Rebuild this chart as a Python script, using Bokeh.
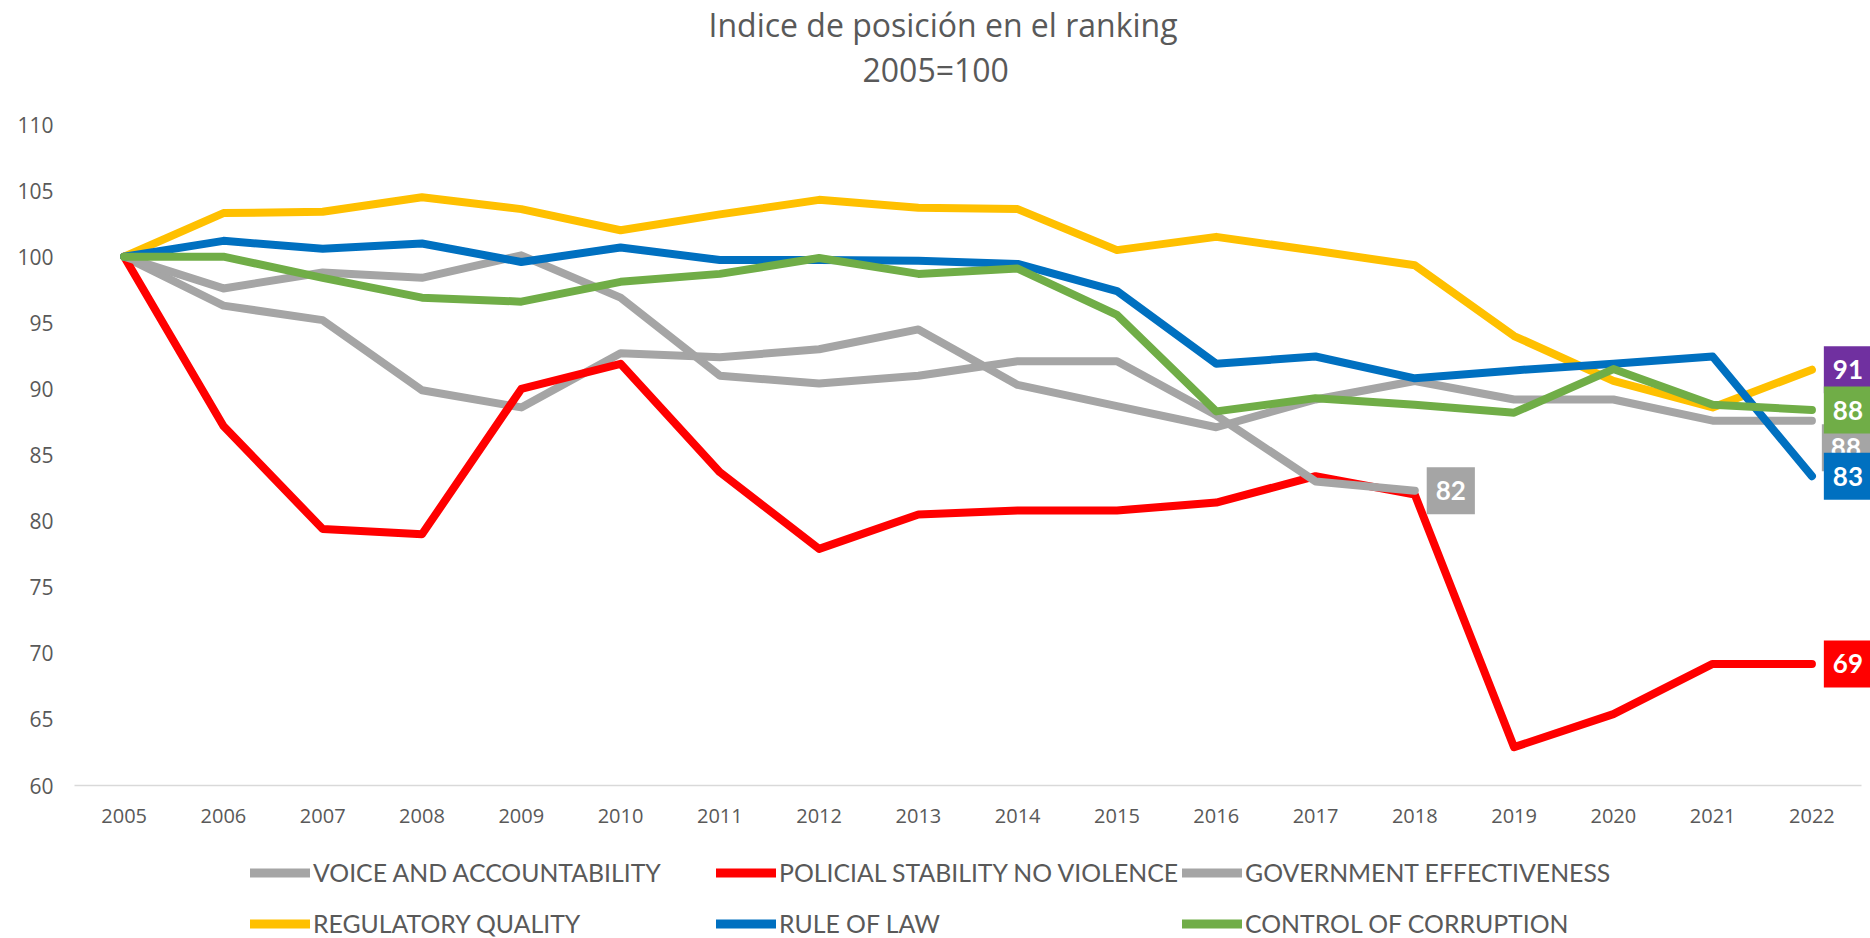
from bokeh.plotting import figure
from bokeh.models import Legend, LegendItem, Title, Range1d, FixedTicker, ColumnDataSource
from bokeh.layouts import column
from bokeh.embed import file_html
from bokeh.resources import INLINE
from bokeh.core.properties import value

years = [str(y) for y in range(2005, 2023)]

voice = [100, 96.3, 95.2, 89.9, 88.6, 92.7, 92.4, 93.0, 94.5, 90.3, 88.7, 87.1, 89.2, 90.6, 89.2, 89.2, 87.6, 87.6]
political = [100, 87.2, 79.4, 79.0, 90.0, 91.9, 83.7, 77.9, 80.5, 80.8, 80.8, 81.4, 83.4, 82.0, 62.9, 65.4, 69.2, 69.2]
government = [100, 97.6, 98.8, 98.4, 100.1, 96.9, 91.0, 90.4, 91.0, 92.1, 92.1, 88.0, 83.0, 82.3]
regulatory = [100, 103.3, 103.4, 104.5, 103.6, 102.0, 103.2, 104.3, 103.7, 103.6, 100.5, 101.5, 100.45, 99.35, 94.0, 90.6, 88.6, 91.45]
rule = [100, 101.2, 100.6, 101.0, 99.6, 100.7, 99.75, 99.75, 99.7, 99.45, 97.4, 91.9, 92.45, 90.8, 91.4, 91.9, 92.45, 83.4]
control = [100, 100, 98.4, 96.9, 96.6, 98.1, 98.7, 99.9, 98.7, 99.1, 95.6, 88.3, 89.3, 88.8, 88.2, 91.5, 88.8, 88.4]

names = ["VOICE AND ACCOUNTABILITY", "POLICIAL STABILITY NO VIOLENCE", "GOVERNMENT EFFECTIVENESS",
         "REGULATORY QUALITY", "RULE OF LAW", "CONTROL OF CORRUPTION"]
series = [voice, political, government, regulatory, rule, control]
colors = ["#A5A5A5", "#FF0000", "#A5A5A5", "#FFC000", "#0070C0", "#70AD47"]
# end-label box colours and offsets (screen px)
label_fill = ["#A5A5A5", "#FF0000", "#A5A5A5", "#7030A0", "#0070C0", "#70AD47"]
label_dx = [34, 36, 36, 36, 36, 36]
label_dy = [27, 0, 0, 0, 0, 0]

TXT = "#595959"
FONT = "Lato"
TFONT = "Open Sans"

idx = list(range(len(years)))  # category positions along the x axis

p = figure(width=1870, height=829, x_range=Range1d(-0.5, 17.59), y_range=Range1d(60, 110),
           output_backend="svg", toolbar_location=None,
           min_border_left=74, min_border_right=0, min_border_bottom=44, min_border_top=124)
p.outline_line_color = None
p.xgrid.visible = False
p.ygrid.visible = False
p.background_fill_color = "white"
p.border_fill_color = "white"

# titles: spacer (closest to plot), subtitle, main title
p.add_layout(Title(text=" ", text_font=TFONT, text_font_size="20px", standoff=5), "above")
p.add_layout(Title(text="2005=100", align="left", offset=788, text_font=TFONT, text_font_size="32px",
                   text_font_style="normal", text_color=TXT, standoff=0), "above")
p.add_layout(Title(text="Indice de posición en el ranking", align="left", offset=634, text_font=TFONT,
                   text_font_size="32px", text_font_style="normal", text_color=TXT, standoff=0), "above")

ax = p.xaxis[0]
ax.ticker = FixedTicker(ticks=idx)
ax.bounds = (-0.5, 17.5)
ax.major_label_overrides = {i: y for i, y in zip(idx, years)}
ax.axis_line_color = "#D9D9D9"
ax.axis_line_width = 1.5
ax.major_tick_line_color = None
ax.minor_tick_line_color = None
ax.major_label_text_font = TFONT
ax.major_label_text_font_size = "20px"
ax.major_label_text_color = TXT
ax.major_label_standoff = 17

ay = p.yaxis[0]
ay.ticker = FixedTicker(ticks=[60, 65, 70, 75, 80, 85, 90, 95, 100, 105, 110])
ay.axis_line_color = None
ay.major_tick_line_color = None
ay.minor_tick_line_color = None
ay.major_label_text_font = TFONT
ay.major_label_text_font_size = "21px"
ay.major_label_text_color = TXT
ay.major_label_standoff = 15

for name, vals, col in zip(names, series, colors):
    p.line(idx[:len(vals)], vals, line_color=col, line_width=8,
           line_cap="round", line_join="round")

for i in range(len(series)):
    vals = series[i]
    src = ColumnDataSource(dict(x=[idx[len(vals) - 1]], y=[vals[-1]], t=[str(int(round(vals[-1])))]))
    p.text(x="x", y="y", text="t", source=src, x_offset=label_dx[i], y_offset=label_dy[i],
           text_align="center", text_baseline="middle", text_color="white",
           text_font=value(FONT), text_font_style="bold", text_font_size="26px",
           background_fill_color=label_fill[i], padding=dict(left=9, right=9, top=14, bottom=14))

# legend strip below the chart (its frame is aligned with the chart's frame)
lg = figure(width=1870, height=109, x_range=Range1d(0, 1), y_range=Range1d(0, 1),
            output_backend="svg", toolbar_location=None, x_axis_location=None, y_axis_location=None,
            min_border_left=0, min_border_right=0, min_border_top=0, min_border_bottom=0)
lg.outline_line_color = None
lg.xgrid.visible = False
lg.ygrid.visible = False
nan = float("nan")
items = []
for name, col in zip(names, colors):
    r = lg.line(x=[nan], y=[nan], line_color=col, line_width=9, line_cap="round")
    items.append(LegendItem(label=name, renderers=[r]))

legend = Legend(items=items, orientation="horizontal", ncols=3, location=(176, -9),
                glyph_width=60, glyph_height=47, label_height=47, label_width=399,
                label_standoff=3, spacing=4, padding=0, margin=0,
                label_text_font=FONT, label_text_font_size="24.8px", label_text_color=TXT,
                border_line_color=None, background_fill_alpha=0)
lg.add_layout(legend)

open("out.html", "w").write(file_html(column(p, lg, spacing=0), INLINE))
